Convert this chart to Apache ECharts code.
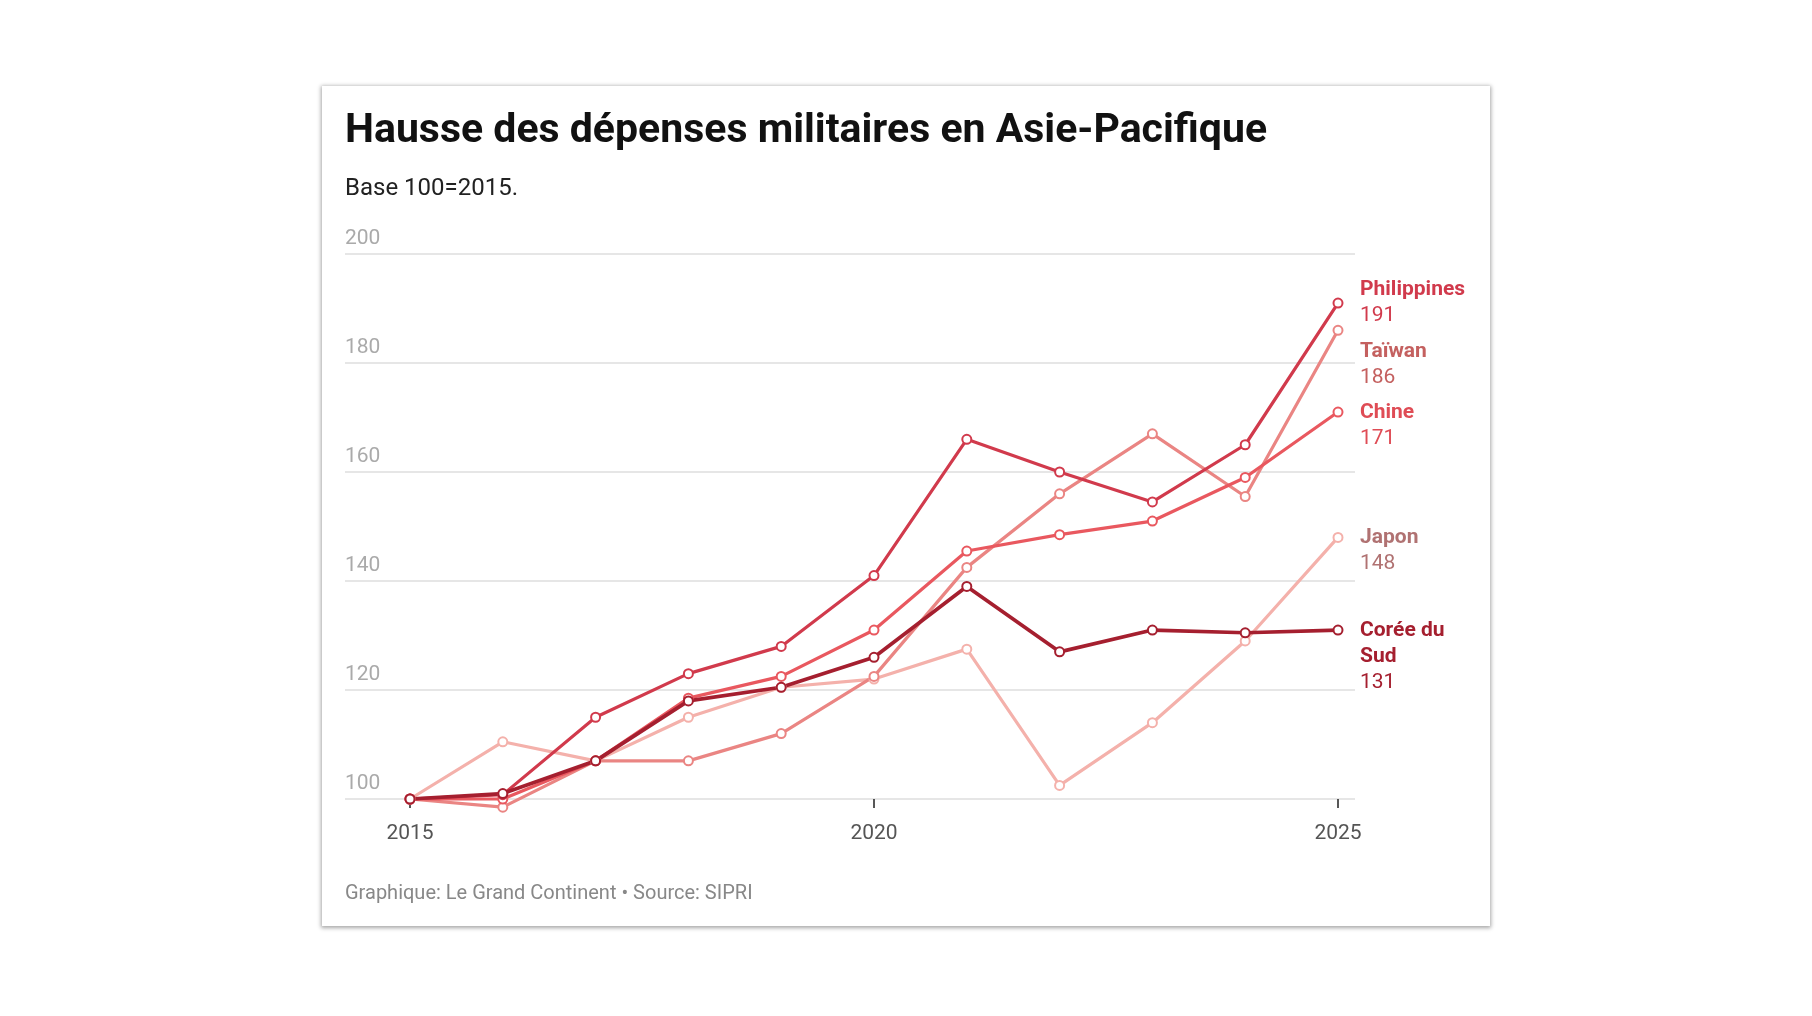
<!DOCTYPE html>
<html><head><meta charset="utf-8">
<script src="https://cdn.jsdelivr.net/npm/echarts@6/dist/echarts.min.js"></script>
<style>
html,body{margin:0;padding:0;background:#fff;width:1812px;height:1016px;overflow:hidden;font-family:Roboto,sans-serif}
#card{position:absolute;left:322px;top:86px;width:1168px;height:840px;background:#fff;box-shadow:0 1px 4px 1px rgba(0,0,0,0.35)}
#chart{position:absolute;left:0;top:0;width:1812px;height:1016px}
</style></head><body>
<div id="card"></div><div id="chart"></div>
<script>
const years = [2015,2016,2017,2018,2019,2020,2021,2022,2023,2024,2025];
const philippines = [100,100.8,115,123,128,141,166,160,154.5,165,191];
const taiwan = [100,98.5,107,107,112,122.5,142.5,156,167,155.5,186];
const chine = [100,100,107,118.5,122.5,131,145.5,148.5,151,159,171];
const japon = [100,110.5,107,115,120.5,122,127.5,102.5,114,129,148];
const coree = [100,101,107,118,120.5,126,139,127,131,130.5,131];
const yTicks = [100,120,140,160,180,200];
const xTicks = [2015,2020,2025];

const defs = [
  {name:'Japon', label:'Japon', data:japon, color:'#f4b1ab', lc:'#b07272', w:3.2, off:[14,-13]},
  {name:'Taïwan', label:'Taïwan', data:taiwan, color:'#ea8583', lc:'#c4605f', w:3.2, off:[14,8]},
  {name:'Chine', label:'Chine', data:chine, color:'#e9585f', lc:'#df4c55', w:3.2, off:[14,-12]},
  {name:'Philippines', label:'Philippines', data:philippines, color:'#d13a4c', lc:'#d13a4c', w:3.2, off:[14,-26]},
  {name:'Corée du Sud', label:'Corée du\nSud', data:coree, color:'#a51f2f', lc:'#a51f2f', w:3.7, off:[14,-12]}
];
const chart = echarts.init(document.getElementById('chart'));
chart.setOption({
  animation:false,
  textStyle:{fontFamily:'Roboto'},
  title:[
    {text:'Hausse des dépenses militaires en Asie-Pacifique', left:345, top:111, padding:0, textStyle:{fontSize:41, fontWeight:'bold', color:'#111', fontFamily:'Roboto'}},
    {text:'Base 100=2015.', left:345, top:177, padding:0, textStyle:{fontSize:24, fontWeight:'normal', color:'#222', fontFamily:'Roboto'}},
    {text:'Graphique: Le Grand Continent • Source: SIPRI', left:345, top:884, padding:0, textStyle:{fontSize:20, fontWeight:'normal', color:'#888', fontFamily:'Roboto'}}
  ],
  grid:[
    {left:345, right:457, top:254, bottom:217},
    {left:410, right:474, top:254, bottom:217}
  ],
  xAxis:[
    {gridIndex:0, type:'value', min:0, max:1, show:false},
    {gridIndex:1, type:'value', min:2015, max:2025, interval:5,
     axisLine:{show:false}, splitLine:{show:false},
     axisTick:{show:true, length:9, lineStyle:{color:'#222', width:1.5}},
     axisLabel:{fontSize:21, color:'#555', margin:24, formatter:v=>xTicks.includes(v)?String(v):''}}
  ],
  yAxis:[
    {gridIndex:0, type:'value', min:100, max:200, interval:20,
     axisLine:{show:false}, axisTick:{show:false},
     splitLine:{lineStyle:{color:'#dedede', width:1.5}},
     axisLabel:{inside:true, verticalAlign:'bottom', margin:0, padding:[0,0,5,0], fontSize:21, color:'#aaa',
       formatter:v=>yTicks.includes(v)?String(v):''}},
    {gridIndex:1, type:'value', min:100, max:200, show:false}
  ],
  series: defs.map(d=>({
    name:d.name, type:'line', xAxisIndex:1, yAxisIndex:1, clip:false,
    data: years.map((y,i)=>[y,d.data[i]]),
    symbol:'emptyCircle', symbolSize:9,
    lineStyle:{color:d.color, width:d.w},
    itemStyle:{color:d.color, borderWidth:2.8},
    endLabel:{show:true, align:'left', verticalAlign:'top', offset:d.off,
      formatter:()=>'{n|'+d.label.split('\n').join('}\n{n|')+'}\n{v|'+Math.round(d.data[d.data.length-1])+'}',
      rich:{n:{fontSize:21, fontWeight:'bold', color:d.lc, lineHeight:26, fontFamily:'Roboto'},
            v:{fontSize:21, color:d.lc, lineHeight:26, fontFamily:'Roboto'}}},
    emphasis:{disabled:true}
  }))
});
</script></body></html>
